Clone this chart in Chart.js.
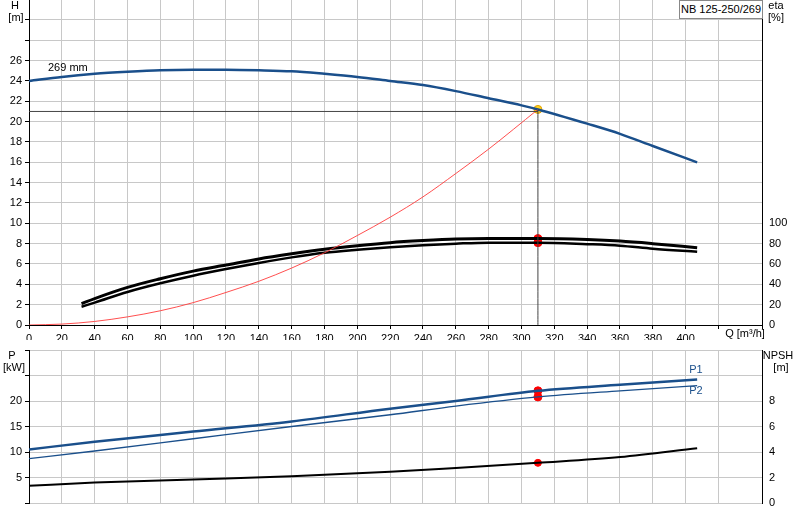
<!DOCTYPE html>
<html><head><meta charset="utf-8">
<script src="https://cdn.jsdelivr.net/npm/chart.js@4"></script>
<style>body{margin:0;background:#fff;overflow:hidden}canvas{position:absolute;left:0}
#leg{position:absolute;left:679px;top:0;width:82px;height:17px;border:1px solid #888;font:11px "Liberation Sans";text-align:center;line-height:17px;background:#fff}</style>
</head><body>
<div style="position:absolute;left:0;top:-10px;width:800px;height:350px"><canvas id="c1"></canvas></div>
<div style="position:absolute;left:0;top:340px;width:800px;height:180px"><canvas id="c2"></canvas></div>
<div id="leg">NB 125-250/269</div>
<script>
const qH=[0,20,40,60,80,100,120,140,160,180,200,220,240,260,280,300,310,340,360,380,407];
const H=[24.0,24.4,24.7,24.9,25.05,25.1,25.1,25.05,24.95,24.7,24.4,24.0,23.6,23.0,22.3,21.6,21.2,19.8,18.8,17.6,16.0];
const qSys=[0,20,40,60,80,100,120,140,160,180,200,220,240,260,280,310];
const Hsys=[0,0.09,0.35,0.8,1.4,2.2,3.2,4.3,5.6,7.1,8.8,10.6,12.6,14.9,17.3,21.2];
const qEta=[32,40,60,80,100,120,140,160,180,200,220,240,260,280,300,310,340,360,380,407];
const etaTot=[21,26,37,45.5,53,59,65,70,74.5,78,81,83,84.5,85,85,85,84,82.5,80,76];
const etaP=[18,22,32.5,41,48.5,55,61,66.5,71,74,76.5,78.5,80,81,81,81,79.5,78,75,72];
const qP=[0,40,100,160,220,260,310,360,407];
const P1=[10.5,12,14,16,18.5,20,22,23.2,24.2];
const P2=[8.7,10.2,12.6,15,17.3,19,20.8,22,23];
const NPSH=[1.35,1.6,1.85,2.1,2.45,2.75,3.15,3.6,4.3];
const Qop=310,Hop=21.2;
const F='"Liberation Sans", Arial, sans-serif';
Chart.defaults.font.family=F;Chart.defaults.font.size=11;Chart.defaults.color='#000';
Chart.defaults.animation=false;
const xy=(a,b)=>a.map((v,i)=>({x:v,y:b[i]}));
const grid={color:'#c8c8c8',lineWidth:1,drawTicks:true,tickLength:4,tickColor:'#000'};
const labels={id:'lbl',afterDraw(c,a,o){const g=c.ctx;g.save();g.font='11px '+F;
 (o.items||[]).forEach(t=>{g.fillStyle=t.c||'#000';g.textAlign=t.a||'center';g.fillText(t.t,t.x,t.y)});g.restore();}};
const lineDs=(d,col,w,extra)=>Object.assign({data:d,borderColor:col,borderWidth:w,pointRadius:0,fill:false,tension:0.4,cubicInterpolationMode:'monotone'},extra||{});
new Chart(document.getElementById('c1'),{type:'line',
 data:{datasets:[
  lineDs(xy([Qop,Qop],[0,Hop]),'#444',1,{tension:0}),
  lineDs(xy([0,Qop],[21,21]),'#444',1,{tension:0}),
  lineDs(xy(qSys,Hsys),'rgba(255,60,60,0.9)',1),
  lineDs(xy(qEta,etaTot),'#000',3,{yAxisID:'eta'}),
  lineDs(xy(qEta,etaTot),'#eee',1.4,{yAxisID:'eta'}),
  lineDs(xy(qEta,etaP),'#000',2.5,{yAxisID:'eta'}),
  lineDs(xy(qH,H),'#1a4f8b',2.5),
  {data:[{x:Qop,y:85},{x:Qop,y:81}],yAxisID:'eta',showLine:false,pointRadius:4,pointBackgroundColor:'#f00',pointBorderColor:'#f00'},
  {data:[{x:Qop,y:Hop}],showLine:false,pointRadius:4,pointBackgroundColor:'#ffd21f',pointBorderColor:'#e0a000'}
 ]},
 options:{responsive:true,maintainAspectRatio:false,layout:{padding:0},
  plugins:{legend:{display:false},tooltip:{enabled:false},
   lbl:{items:[{t:'H',x:15,y:19},{t:'[m]',x:16,y:31},{t:'eta',x:776,y:19},{t:'[%]',x:776,y:31},
    {t:'269 mm',x:48,y:81,a:'left'},{t:'Q [m³/h]',x:745,y:347}]}},
  scales:{
   x:{type:'linear',min:0,max:446.5,grid:grid,border:{color:'#000'},
     ticks:{stepSize:20,maxRotation:0,callback:v=>v<=400?v:''},afterFit:s=>{s.height=15}},
   y:{min:0,max:32,grid:grid,border:{color:'#000'},ticks:{stepSize:2,callback:v=>v<=26?v:''},afterFit:s=>{s.width=29}},
   eta:{position:'right',min:0,max:320,grid:{display:false,drawTicks:true,tickLength:4},border:{color:'#000'},
     ticks:{stepSize:20,callback:v=>v<=100?v:''},afterFit:s=>{s.width=38}}
  }},plugins:[labels]});
new Chart(document.getElementById('c2'),{type:'line',
 data:{datasets:[
  lineDs(xy(qP,P1),'#1a4f8b',2.5),
  lineDs(xy(qP,P2),'#1a4f8b',1.3),
  lineDs(xy(qP,NPSH),'#000',2,{yAxisID:'n'}),
  {data:[{x:Qop,y:22},{x:Qop,y:20.8}],showLine:false,pointRadius:4,pointBackgroundColor:'#f00',pointBorderColor:'#f00'},
  {data:[{x:Qop,y:3.15}],yAxisID:'n',showLine:false,pointRadius:3.5,pointBackgroundColor:'#f00',pointBorderColor:'#f00'}
 ]},
 options:{responsive:true,maintainAspectRatio:false,layout:{padding:{top:10,bottom:0}},
  plugins:{legend:{display:false},tooltip:{enabled:false},
   lbl:{items:[{t:'P',x:12,y:19},{t:'[kW]',x:14,y:31},{t:'NPSH',x:778,y:19},{t:'[m]',x:781,y:31},
    {t:'P1',x:696,y:33,c:'#1a4f8b'},{t:'P2',x:696,y:54,c:'#1a4f8b'}]}},
  scales:{
   x:{type:'linear',min:0,max:446.5,grid:Object.assign({},grid,{drawTicks:false}),border:{color:'#c8c8c8'},
     ticks:{display:false,stepSize:20},afterFit:s=>{s.height=17}},
   y:{min:0,max:30,grid:grid,border:{color:'#000'},ticks:{stepSize:5,callback:v=>(v>0&&v<=20)?v:''},afterFit:s=>{s.width=29}},
   n:{position:'right',min:0,max:12,grid:{display:false,drawTicks:true,tickLength:4},border:{color:'#000'},
     ticks:{stepSize:2,callback:v=>v<=8?v:''},afterFit:s=>{s.width=38}}
  }},plugins:[labels]});
</script></body></html>
